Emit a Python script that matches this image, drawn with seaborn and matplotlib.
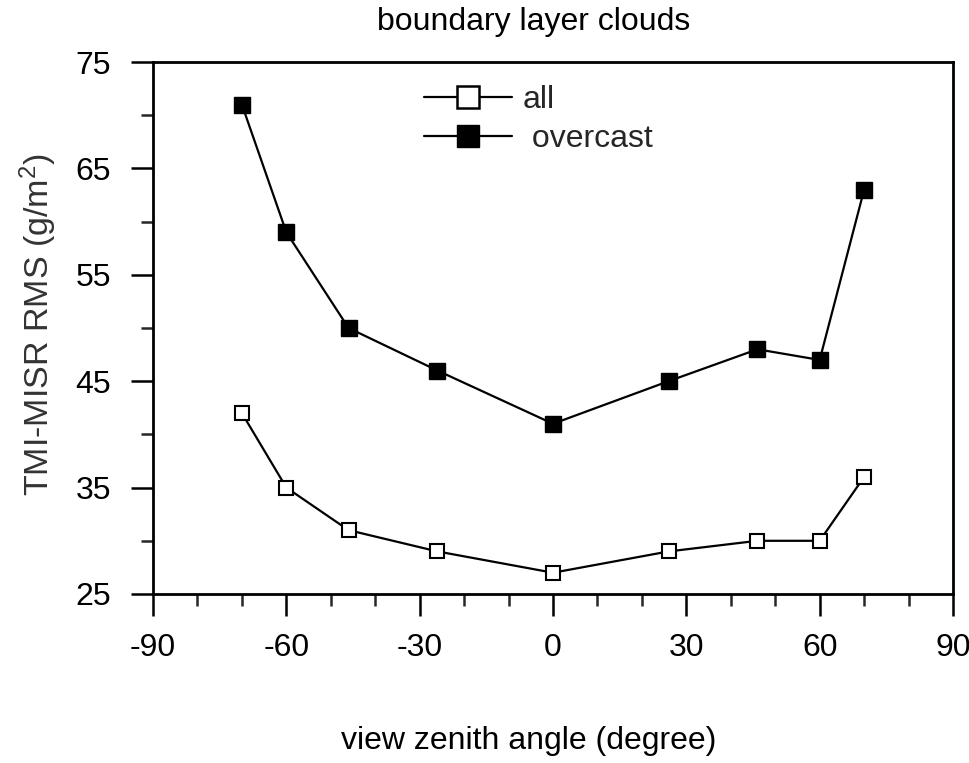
import numpy as np
import pandas as pd
import matplotlib
matplotlib.use("Agg")
import matplotlib.pyplot as plt
import seaborn as sns

# view zenith angles (degree) and RMS differences (g/m^2)
angles = [-70, -60, -46, -26, 0, 26, 46, 60, 70]
rms_all = [42, 35, 31, 29, 27, 29, 30, 30, 36]
rms_overcast = [71, 59, 50, 46, 41, 45, 48, 47, 63]
series_names = ["all", "overcast"]
x_ticks = [-90, -60, -30, 0, 30, 60, 90]
y_ticks = [25, 35, 45, 55, 65, 75]

df = pd.DataFrame({
    "angle": angles * 2,
    "rms": rms_all + rms_overcast,
    "series": [series_names[0]] * len(angles) + [series_names[1]] * len(angles),
})

sns.set_theme(style="ticks")
plt.rcParams["font.family"] = ["Liberation Sans", "DejaVu Sans"]
plt.rcParams["mathtext.fontset"] = "custom"
plt.rcParams["mathtext.rm"] = "Liberation Sans"
plt.rcParams["mathtext.it"] = "Liberation Sans"

FS = 23

fig = plt.figure(figsize=(9.69, 7.63), dpi=100)
ax = fig.add_axes([0.1579, 0.2215, 0.8256, 0.6972])

sub_all = df[df["series"] == "all"]
sub_ovc = df[df["series"] == "overcast"]
sns.lineplot(data=sub_all, x="angle", y="rms", ax=ax, color="black", lw=1.6,
             marker="s", markersize=10, markerfacecolor="white",
             markeredgecolor="black", markeredgewidth=1.5, label="all")
sns.lineplot(data=sub_ovc, x="angle", y="rms", ax=ax, color="black", lw=1.6,
             marker="s", markersize=12, markerfacecolor="black",
             markeredgecolor="black", markeredgewidth=1, label=" overcast")

ax.set_xlim(-90, 90)
ax.set_ylim(25, 75)
ax.set_xticks(x_ticks)
ax.set_xticklabels([str(t) for t in x_ticks])
ax.set_yticks(y_ticks)
ax.set_yticklabels([str(t) for t in y_ticks])
ax.set_xticks(np.arange(-80, 90, 10), minor=True)
ax.set_yticks(np.arange(30, 75, 10), minor=True)

for s in ax.spines.values():
    s.set_linewidth(2)
    s.set_color("black")

ax.tick_params(axis="both", which="major", direction="out", length=16,
               width=1.8, labelsize=FS, colors="black")
ax.tick_params(axis="both", which="minor", direction="out", length=8.5,
               width=1.8)
ax.tick_params(axis="x", which="major", pad=12)
ax.tick_params(axis="y", which="major", pad=14)

ax.set_xlabel("view zenith angle (degree)", fontsize=FS, color="black")
ax.xaxis.set_label_coords(0.47, -0.248)
ax.set_ylabel("TMI-MISR RMS (g/m$^2$)", fontsize=24.5, color="#333333")
ax.yaxis.set_label_coords(-0.117, 0.507)

fig.text(0.551, 0.971, "boundary layer clouds", fontsize=FS, ha="center",
         va="center", color="black")

leg = ax.legend(loc="upper left", bbox_to_anchor=(0.339, 0.957),
                frameon=False, fontsize=FS, handlelength=2.75,
                handletextpad=0.33, borderpad=0, borderaxespad=0,
                labelspacing=0.3)
for h in leg.legend_handles:
    h.set_markersize(16)
leg.legend_handles[0].set_markeredgewidth(1.8)

fig.savefig("out.png", dpi=100)
